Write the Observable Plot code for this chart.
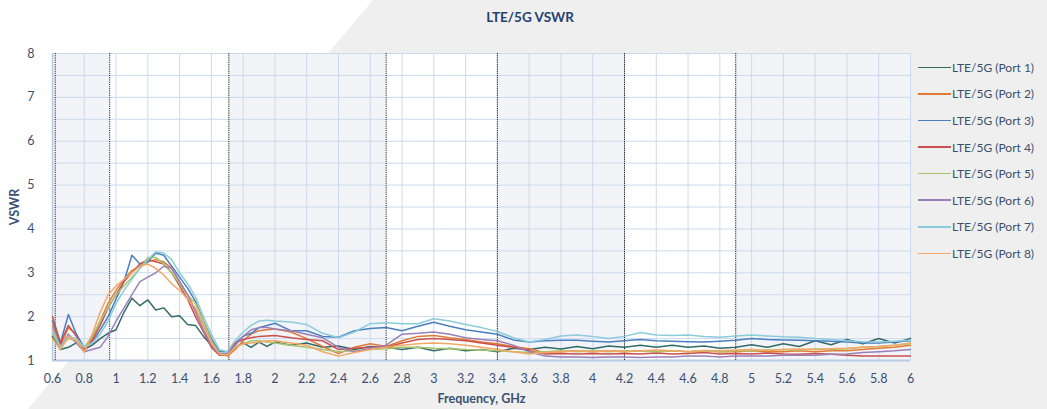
<!DOCTYPE html>
<html>
<head>
<meta charset="utf-8">
<script src="https://cdn.jsdelivr.net/npm/d3@7"></script>
<script src="https://cdn.jsdelivr.net/npm/@observablehq/plot@0.6"></script>
<style>
  html, body { margin: 0; padding: 0; }
  body { width: 1047px; height: 409px; overflow: hidden; font-family: Lato, "Open Sans", sans-serif; }
  #wrap { position: relative; width: 1047px; height: 409px; background: #efefef; }
  #whitebg { position: absolute; left: 0; top: 0; width: 1047px; height: 409px; background: #ffffff;
             clip-path: polygon(0 0, 373px 0, 28px 409px, 0 409px); }
  #title { position: absolute; left: 0; width: 1060px; top: 9px; text-align: center; font-weight: bold;
           font-size: 13.5px; color: #24426e; }
  #chart { position: absolute; left: 0; top: 0; }
  #legend { position: absolute; left: 918px; top: 54px; font-size: 12px; color: #3b4f6b; }
  #legend .row { height: 26.6px; display: flex; align-items: center; }
  #legend .sw { display: inline-block; width: 33px; height: 1.6px; margin-right: 1px; }
  svg [aria-label="x-axis label"] text, svg [aria-label="y-axis label"] text { font-weight: bold; }
</style>
</head>
<body>
<div id="wrap">
  <div id="whitebg"></div>
  <div id="chart"></div>
  <div id="title">LTE/5G VSWR</div>
  <div id="legend"></div>
</div>
<script>
// ---- data ----
const freq = [0.6,0.65,0.7,0.75,0.8,0.85,0.9,0.95,1.0,1.05,1.1,1.15,1.2,1.25,1.3,1.35,1.4,1.45,1.5,1.55,1.6,1.65,1.7,1.75,1.8,1.85,1.9,1.95,2.0,
  2.1,2.2,2.3,2.4,2.5,2.6,2.7,2.8,2.9,3.0,3.1,3.2,3.3,3.4,3.5,3.6,3.7,3.8,3.9,4.0,4.1,4.2,4.3,4.4,4.5,4.6,4.7,4.8,4.9,5.0,5.1,5.2,5.3,5.4,5.5,5.6,5.7,5.8,5.9,6.0];

const port1 = [1.55,1.25,1.3,1.4,1.25,1.35,1.5,1.62,1.7,2.1,2.42,2.25,2.38,2.15,2.2,2.0,2.02,1.82,1.8,1.55,1.35,1.15,1.12,1.3,1.4,1.3,1.42,1.32,1.42,
  1.35,1.4,1.3,1.33,1.25,1.32,1.3,1.25,1.3,1.22,1.28,1.22,1.25,1.2,1.28,1.25,1.3,1.26,1.32,1.27,1.33,1.3,1.35,1.3,1.35,1.3,1.33,1.28,1.3,1.36,1.3,1.38,1.32,1.45,1.36,1.48,1.38,1.5,1.4,1.5];
const port2 = [1.8,1.35,1.75,1.6,1.2,1.5,1.9,2.3,2.6,2.85,3.05,3.15,3.25,3.3,3.25,3.1,2.8,2.5,2.15,1.8,1.4,1.15,1.1,1.25,1.45,1.6,1.68,1.7,1.72,
  1.65,1.5,1.32,1.16,1.3,1.38,1.32,1.45,1.55,1.57,1.52,1.48,1.42,1.38,1.32,1.27,1.18,1.2,1.22,1.2,1.22,1.2,1.22,1.2,1.22,1.2,1.22,1.2,1.2,1.22,1.2,1.2,1.22,1.2,1.22,1.22,1.25,1.28,1.3,1.35];
const port3 = [1.9,1.4,2.05,1.6,1.3,1.4,1.7,2.0,2.4,2.8,3.4,3.2,3.25,3.45,3.4,3.15,2.9,2.65,2.35,1.9,1.5,1.2,1.2,1.4,1.55,1.62,1.75,1.8,1.85,
  1.68,1.68,1.55,1.53,1.68,1.73,1.75,1.68,1.78,1.87,1.78,1.7,1.65,1.6,1.47,1.42,1.45,1.46,1.46,1.44,1.42,1.45,1.48,1.45,1.44,1.43,1.42,1.44,1.46,1.5,1.48,1.47,1.46,1.45,1.44,1.42,1.4,1.4,1.42,1.45];
const port4 = [2.0,1.4,1.8,1.55,1.25,1.45,1.8,2.2,2.5,2.8,3.0,3.2,3.3,3.25,3.2,3.0,2.7,2.4,2.0,1.65,1.3,1.12,1.15,1.4,1.48,1.52,1.55,1.56,1.57,
  1.52,1.48,1.45,1.25,1.28,1.3,1.3,1.4,1.48,1.5,1.48,1.45,1.4,1.35,1.3,1.22,1.15,1.16,1.15,1.16,1.15,1.16,1.15,1.17,1.15,1.16,1.18,1.15,1.16,1.15,1.17,1.15,1.14,1.16,1.14,1.12,1.1,1.1,1.1,1.1];
const port5 = [1.6,1.3,1.5,1.45,1.3,1.55,1.9,2.2,2.5,2.7,2.9,3.1,3.35,3.35,3.2,3.0,2.75,2.5,2.3,1.9,1.45,1.15,1.15,1.3,1.38,1.45,1.45,1.42,1.4,
  1.35,1.3,1.25,1.2,1.22,1.25,1.27,1.3,1.3,1.28,1.27,1.25,1.24,1.22,1.2,1.18,1.2,1.22,1.2,1.22,1.2,1.22,1.21,1.2,1.22,1.2,1.22,1.2,1.22,1.22,1.24,1.25,1.24,1.26,1.25,1.27,1.3,1.32,1.35,1.38];
const port6 = [1.7,1.3,1.6,1.4,1.2,1.25,1.3,1.55,1.9,2.2,2.5,2.8,2.9,3.0,3.15,3.1,2.8,2.5,2.1,1.7,1.35,1.15,1.15,1.35,1.55,1.7,1.75,1.75,1.72,
  1.68,1.6,1.52,1.3,1.2,1.28,1.35,1.6,1.62,1.65,1.6,1.52,1.48,1.45,1.35,1.2,1.1,1.08,1.08,1.07,1.08,1.08,1.07,1.08,1.08,1.1,1.1,1.08,1.1,1.1,1.1,1.12,1.12,1.12,1.14,1.15,1.18,1.2,1.22,1.25];
const port7 = [1.7,1.3,1.55,1.5,1.3,1.4,1.6,1.9,2.3,2.6,2.85,3.1,3.3,3.48,3.45,3.3,3.0,2.75,2.45,2.0,1.6,1.25,1.2,1.45,1.65,1.8,1.9,1.92,1.9,
  1.88,1.82,1.62,1.52,1.65,1.84,1.86,1.84,1.84,1.95,1.9,1.82,1.75,1.66,1.52,1.42,1.48,1.56,1.58,1.55,1.5,1.55,1.64,1.58,1.57,1.58,1.55,1.53,1.56,1.58,1.56,1.54,1.53,1.5,1.48,1.45,1.43,1.42,1.44,1.46];
const port8 = [1.5,1.25,1.55,1.45,1.2,1.6,2.1,2.5,2.7,2.85,3.0,3.15,3.2,3.1,2.95,2.75,2.6,2.4,2.2,1.8,1.4,1.15,1.12,1.3,1.38,1.4,1.42,1.45,1.45,
  1.4,1.35,1.2,1.1,1.18,1.25,1.3,1.35,1.38,1.4,1.38,1.35,1.3,1.25,1.2,1.15,1.18,1.2,1.22,1.2,1.22,1.2,1.22,1.24,1.22,1.2,1.23,1.22,1.24,1.25,1.23,1.25,1.26,1.25,1.27,1.28,1.3,1.32,1.35,1.4];

const seriesNames = ["LTE/5G (Port 1)","LTE/5G (Port 2)","LTE/5G (Port 3)","LTE/5G (Port 4)","LTE/5G (Port 5)","LTE/5G (Port 6)","LTE/5G (Port 7)","LTE/5G (Port 8)"];
const seriesValues = [port1, port2, port3, port4, port5, port6, port7, port8];
const seriesColors = ["#336b66","#e07a35","#4a7fc0","#c9514d","#a9c46a","#9a80b8","#8ccbdc","#f3a766"];

const xTicks = [0.6,0.8,1,1.2,1.4,1.6,1.8,2,2.2,2.4,2.6,2.8,3,3.2,3.4,3.6,3.8,4,4.2,4.4,4.6,4.8,5,5.2,5.4,5.6,5.8,6];
const yTicks = [1,2,3,4,5,6,7,8];
const yGrid = [1,1.5,2,2.5,3,3.5,4,4.5,5,5.5,6,6.5,7,7.5,8];

const bandStart = [0.6,0.96,1.71,2.7,3.4,4.2,4.9];
const bandEnd   = [0.96,1.71,2.7,3.4,4.2,4.9,6];
const bandShaded = [true,false,true,false,true,false,true];
const bandEdges = [0.617,0.96,1.71,2.7,3.4,4.2,4.9];

// ---- build ----
const rows = [];
seriesValues.forEach((vals, i) => vals.forEach((v, j) => rows.push({f: freq[j], v, s: seriesNames[i]})));
const bands = bandStart.map((b, i) => ({x1: b, x2: bandEnd[i], shaded: bandShaded[i]}));

const textColor = "#3b5072";
const gridColor = "#cbdaee";

const chart = Plot.plot({
  width: 1047,
  height: 409,
  marginTop: 53,
  marginBottom: 49,
  marginLeft: 52,
  marginRight: 137,
  style: {background: "transparent", fontFamily: "Lato, 'Open Sans', sans-serif", fontSize: "12.5px", color: textColor},
  x: {domain: [0.6, 6]},
  y: {domain: [1, 8]},
  color: {domain: seriesNames, range: seriesColors},
  marks: [
    Plot.frame({fill: "white", stroke: null}),
    Plot.rect(bands.filter(d => d.shaded), {x1: "x1", x2: "x2", y1: 1, y2: 8, fill: "#f3f4f7"}),
    Plot.gridX(xTicks, {stroke: gridColor, strokeOpacity: 1, strokeWidth: 1}),
    Plot.gridY(yGrid, {stroke: gridColor, strokeOpacity: 1, strokeWidth: 1}),
    Plot.ruleY([1], {stroke: "#b8cbe6", strokeWidth: 2}),
    Plot.ruleX([0.6], {stroke: "#b8cbe6", strokeWidth: 1.5}),
    Plot.ruleX(bandEdges, {stroke: "#222", strokeWidth: 1, strokeDasharray: "1.2,1"}),
    Plot.line(rows, {x: "f", y: "v", z: "s", stroke: "s", strokeWidth: 1.5, curve: "linear"}),
    Plot.axisX({ticks: xTicks, tickFormat: d => String(d), tickSize: 0, tickPadding: 14, fill: textColor,
                label: "Frequency, GHz", labelAnchor: "center", labelOffset: 42, labelArrow: "none"}),
    Plot.axisY({ticks: yTicks, tickFormat: d => String(d), tickSize: 0, tickPadding: 18, fill: textColor,
                label: "VSWR", labelAnchor: "center", labelOffset: 42, labelArrow: "none"})
  ]
});
document.getElementById("chart").appendChild(chart);

// legend
const lg = document.getElementById("legend");
seriesNames.forEach((n, i) => {
  const r = document.createElement("div");
  r.className = "row";
  const sw = document.createElement("span");
  sw.className = "sw";
  sw.style.background = seriesColors[i];
  const t = document.createElement("span");
  t.textContent = n;
  r.appendChild(sw); r.appendChild(t);
  lg.appendChild(r);
});
</script>
</body>
</html>
